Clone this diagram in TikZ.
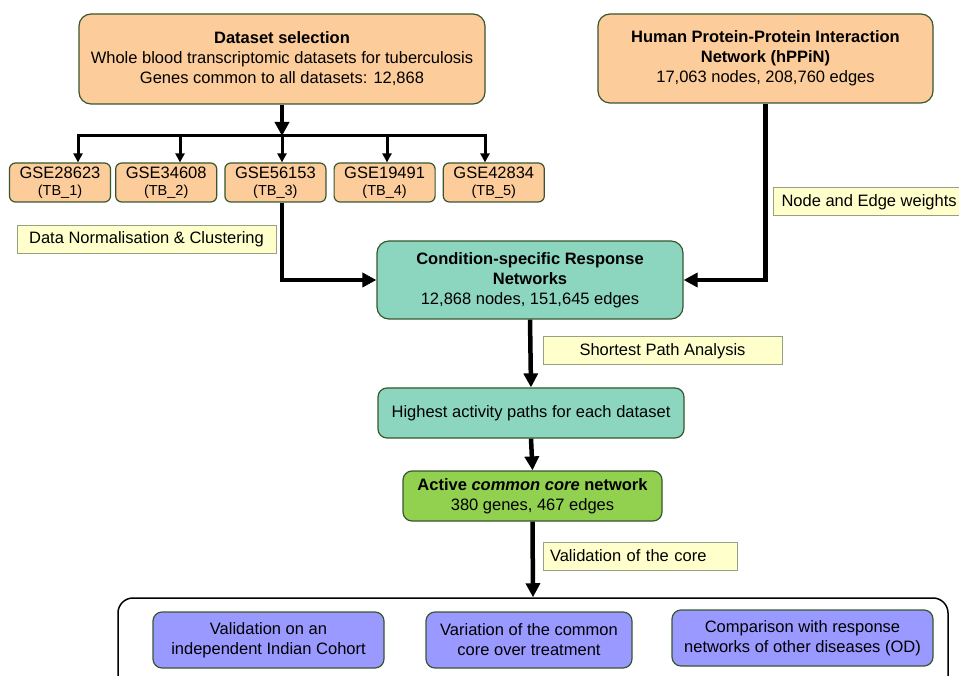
\documentclass[tikz,border=0pt]{standalone}
\usepackage{fontspec}
\setmainfont{Liberation Sans}
\usetikzlibrary{arrows.meta, positioning}

\definecolor{peach}{RGB}{252,204,154}
\definecolor{teal}{RGB}{140,214,192}
\definecolor{leaf}{RGB}{146,208,80}
\definecolor{lilac}{RGB}{153,153,255}
\definecolor{boxline}{RGB}{56,87,45}
\definecolor{notefill}{RGB}{255,255,204}
\definecolor{noteline}{RGB}{150,160,130}

\begin{document}
\begin{tikzpicture}[
    x=1pt, y=-1pt,
    every node/.style={font=\fontsize{16.5}{20}\selectfont},
    box/.style={rectangle, draw=boxline, line width=1.2pt, rounded corners=12pt, align=center, inner sep=0pt},
    gse/.style={box, fill=peach, rounded corners=6pt, minimum width=101pt, minimum height=39pt},
    note/.style={rectangle, draw=noteline, fill=notefill, line width=1pt, minimum height=28pt, inner sep=0pt},
    arrow/.style={-{Triangle[length=14pt, width=14pt]}, line width=4.5pt},
    small arrow/.style={-{Triangle[length=9pt, width=9pt]}, line width=3pt},
]
\clip (0,0) rectangle (959,676);

\node[box, fill=peach, minimum width=406pt, minimum height=90pt] (data) at (282,59)
    {\textbf{Dataset selection}\\Whole blood transcriptomic datasets for tuberculosis\\Genes common to all datasets: 12,868};
\node[box, fill=peach, minimum width=335pt, minimum height=89pt] (hppin) at (765.5,58.5)
    {\textbf{Human Protein-Protein Interaction}\\\textbf{Network (hPPiN)}\\17,063 nodes, 208,760 edges};

\node[gse] (g1) at (60,182.5) {GSE28623\\[-3pt]{\fontsize{14.5}{17}\selectfont(TB\_1)}};
\node[gse, right=4pt of g1] (g2) {GSE34608\\[-3pt]{\fontsize{14.5}{17}\selectfont(TB\_2)}};
\node[gse, right=7pt of g2] (g3) {GSE56153\\[-3pt]{\fontsize{14.5}{17}\selectfont(TB\_3)}};
\node[gse, right=7pt of g3] (g4) {GSE19491\\[-3pt]{\fontsize{14.5}{17}\selectfont(TB\_4)}};
\node[gse, right=7pt of g4] (g5) {GSE42834\\[-3pt]{\fontsize{14.5}{17}\selectfont(TB\_5)}};

\node[note, minimum width=259pt] (norm) at (146.5,239.5) {Data Normalisation \& Clustering};
\node[note, anchor=west, inner xsep=8pt] (weights) at (773,202) {Node and Edge weights};

\node[box, fill=teal, minimum width=306pt, minimum height=78pt] (cond) at (530,280)
    {\textbf{Condition-specific Response}\\\textbf{Networks}\\12,868 nodes, 151,645 edges};
\node[note, minimum width=239pt] (spa) at (662.5,351) {Shortest Path Analysis};
\node[box, fill=teal, rounded corners=9pt, minimum width=306pt, minimum height=50pt] (high) at (531,413)
    {Highest activity paths for each dataset};
\node[box, fill=leaf, rounded corners=9pt, minimum width=259pt, minimum height=50pt] (core) at (532.5,496)
    {\textbf{Active \textit{common core} network}\\380 genes, 467 edges};
\node[note, text width=180pt, inner xsep=7pt, align=left] (val) at (640,556) {Validation of the core};

\node[rectangle, draw, line width=1.5pt, rounded corners=15pt, minimum width=830pt, minimum height=122pt] (checks) at (533,659) {};
\node[box, fill=lilac, rounded corners=9pt, minimum width=231pt, minimum height=56pt] (p1) at (268.5,640)
    {Validation on an\\independent Indian Cohort};
\node[box, fill=lilac, rounded corners=9pt, minimum width=206pt, minimum height=56pt] (p2) at (529,640)
    {Variation of the common\\core over treatment};
\node[box, fill=lilac, rounded corners=9pt, minimum width=261pt, minimum height=56pt] (p3) at (802.5,638)
    {Comparison with response\\networks of other diseases (OD)};

\coordinate (b1) at (78,136);
\coordinate (b2) at (180,136);
\coordinate (b3) at (282,136);
\coordinate (b4) at (387,136);
\coordinate (b5) at (485,136);

\draw[arrow] (data.south) -- (b3);
\draw[line width=3pt, line cap=rect] (b1) -- (b5);
\foreach \i in {1,...,5}
    \draw[small arrow] (b\i) -- (b\i |- g\i.north);

\draw[arrow] (b3 |- g3.south) |- (cond.west);
\draw[arrow] (hppin.south) |- (cond.east);
\draw[arrow] (cond.south) -- (high.north);
\draw[arrow] (high.south) -- (core.north);
\draw[arrow] (core.south) -- (checks.north);
\end{tikzpicture}
\end{document}
